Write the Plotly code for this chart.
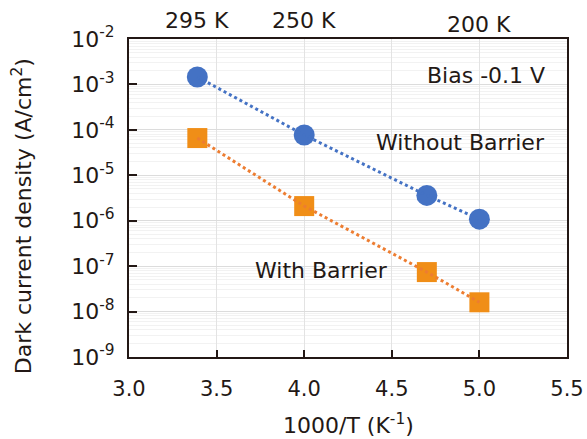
import plotly.graph_objects as go

# Data
inv_T = [3.39, 4.0, 4.7, 5.0]
without_barrier = [1.46e-3, 7.7e-5, 3.6e-6, 1.08e-6]
with_barrier = [6.6e-5, 2.1e-6, 7.4e-8, 1.6e-8]
temp_labels = ["295 K", "250 K", "200 K"]
temp_x = [1000 / 295, 4.0, 5.0]
y_tickvals = [1e-2, 1e-3, 1e-4, 1e-5, 1e-6, 1e-7, 1e-8, 1e-9]
y_ticktext = ["10<sup>-%d</sup>" % e for e in range(2, 10)]
x_tickvals = [3.0, 3.5, 4.0, 4.5, 5.0, 5.5]

FONT = "DejaVu Sans"
TXT = "#231815"

fig = go.Figure()
fig.add_trace(go.Scatter(
    x=inv_T, y=without_barrier, mode="markers",
    marker=dict(symbol="circle", size=21, color="#4472C4"),
    showlegend=False))
fig.add_trace(go.Scatter(
    x=inv_T, y=with_barrier, mode="markers",
    marker=dict(symbol="square", size=20, color="#F08E17"),
    showlegend=False))
fig.add_trace(go.Scatter(
    x=inv_T, y=without_barrier, mode="lines",
    line=dict(color="#4472C4", width=3, dash="dot"), showlegend=False))
fig.add_trace(go.Scatter(
    x=inv_T, y=with_barrier, mode="lines",
    line=dict(color="#ED7D31", width=3, dash="dot"), showlegend=False))

anns = []
for lbl, xv, yoff in zip(temp_labels, temp_x, [4, 4, 0]):
    anns.append(dict(x=xv, xref="x", y=1, yref="paper", yshift=yoff,
                     text=lbl, showarrow=False, yanchor="bottom",
                     font=dict(size=22, family=FONT, color=TXT)))
anns.append(dict(x=0.955, xref="paper", y=-3, yref="y", yshift=9,
                 text="Bias -0.1 V", showarrow=False, xanchor="right",
                 font=dict(size=22, family=FONT, color=TXT)))
anns.append(dict(x=0.955, xref="paper", y=-4, yref="y", yshift=-13,
                 text="Without Barrier", showarrow=False, xanchor="right",
                 font=dict(size=22, family=FONT, color=TXT)))
anns.append(dict(x=3.71, xref="x", y=-7, yref="y", yshift=-4,
                 text="With Barrier", showarrow=False, xanchor="left",
                 font=dict(size=22, family=FONT, color=TXT)))
# axis titles
anns.append(dict(x=-0.244, xref="paper", y=0.443, yref="paper",
                 text="Dark current density (A/cm<sup>2</sup>)", textangle=-90,
                 showarrow=False, xanchor="center", yanchor="middle",
                 font=dict(size=22, family=FONT, color=TXT)))
anns.append(dict(x=0.5, xref="paper", y=-0.21, yref="paper",
                 text="1000/T (K<sup>-1</sup>)",
                 showarrow=False, xanchor="center", yanchor="middle",
                 font=dict(size=22, family=FONT, color=TXT)))

fig.update_layout(
    width=587, height=439,
    margin=dict(l=129, r=20, t=39, b=82),
    plot_bgcolor="white", paper_bgcolor="white",
    font=dict(family=FONT, size=22, color=TXT),
    annotations=anns,
    xaxis=dict(
        range=[3.0, 5.5], tickvals=x_tickvals,
        ticktext=["%.1f" % v for v in x_tickvals], automargin=False,
        showgrid=True, gridcolor="#e3e3e3", gridwidth=1,
        zeroline=False, showline=True, linecolor="#231815", linewidth=2,
        mirror=True, ticks="inside", ticklen=7, tickwidth=2,
        tickcolor="#231815", ticklabelstandoff=12,
        tickfont=dict(size=21, family=FONT, color=TXT)),
    yaxis=dict(
        type="log", range=[-9, -2], tickvals=y_tickvals, ticktext=y_ticktext,
        automargin=False,
        showgrid=True, gridcolor="#dcdcdc", gridwidth=1,
        minor=dict(showgrid=True, gridcolor="#f2f2f2", dtick="D1", ticks=""),
        zeroline=False, showline=True, linecolor="#231815", linewidth=2,
        mirror=True, ticks="inside", ticklen=8, tickwidth=2,
        tickcolor="#231815", ticklabelstandoff=8,
        tickfont=dict(size=22, family=FONT, color=TXT)),
)

fig.write_html("out.html")
